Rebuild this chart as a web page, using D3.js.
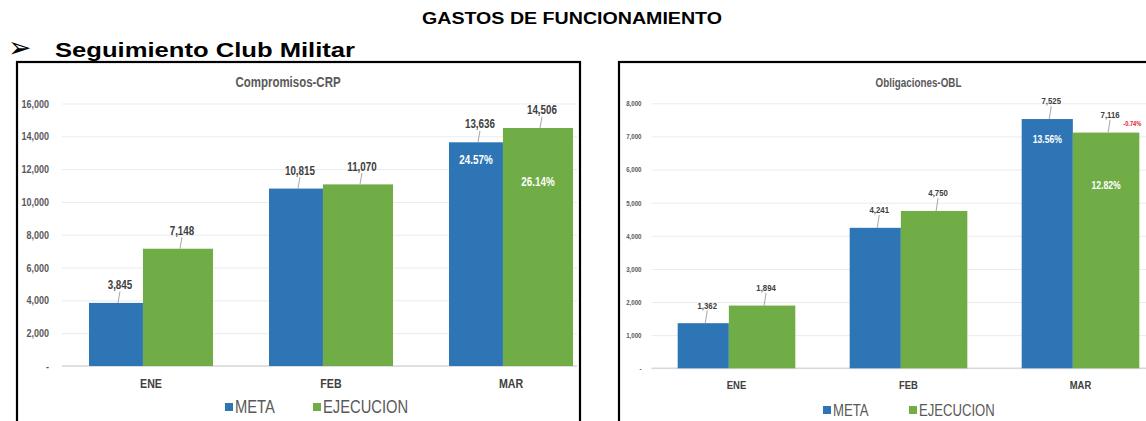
<!DOCTYPE html>
<html>
<head>
<meta charset="utf-8">
<script src="https://cdn.jsdelivr.net/npm/d3@7/dist/d3.min.js"></script>
<style>
  body { margin: 0; background: #fff; }
  svg { display: block; }
  text { font-family: "Liberation Sans", Arial, sans-serif; }
</style>
</head>
<body>
<div id="chart"></div>
<script>
// ---- data ----
var months = ["ENE", "FEB", "MAR"];
var seriesNames = ["META", "EJECUCION"];

// Compromisos-CRP
var crpMeta = [3845, 10815, 13636];
var crpEjec = [7148, 11070, 14506];
var crpMetaPct = ["", "", "24.57%"];
var crpEjecPct = ["", "", "26.14%"];
var crpDiff = ["", "", ""];
var crpTicks = [0, 2000, 4000, 6000, 8000, 10000, 12000, 14000, 16000];

// Obligaciones-OBL
var oblMeta = [1362, 4241, 7525];
var oblEjec = [1894, 4750, 7116];
var oblMetaPct = ["", "", "13.56%"];
var oblEjecPct = ["", "", "12.82%"];
var oblDiff = ["", "", "-0.74%"];
var oblTicks = [0, 1000, 2000, 3000, 4000, 5000, 6000, 7000, 8000];

var colors = {META: "#2E75B6", EJECUCION: "#70AD47"};

var W = 1146, H = 421;
var metaShare = 0.435; // META bar is a bit narrower than EJECUCION in the original
var squeeze = 0.82;    // no Arial Narrow here, so squash Liberation Sans horizontally

var svg = d3.select("#chart").append("svg")
    .attr("width", W)
    .attr("height", H);

// page headings
svg.append("text")
    .attr("x", 422).attr("y", 24)
    .attr("textLength", 300).attr("lengthAdjust", "spacingAndGlyphs")
    .style("font-weight", "bold").style("font-size", "16px")
    .attr("fill", "#000")
    .text("GASTOS DE FUNCIONAMIENTO");

svg.append("text")
    .attr("x", 8).attr("y", 57)
    .style("font-family", "'DejaVu Sans', sans-serif")
    .style("font-size", "28px")
    .attr("fill", "#000")
    .text("\u27A2");

svg.append("text")
    .attr("x", 55).attr("y", 57)
    .attr("textLength", 300).attr("lengthAdjust", "spacingAndGlyphs")
    .style("font-weight", "bold").style("font-size", "21px")
    .attr("fill", "#000")
    .text("Seguimiento Club Militar");

var fmt = d3.format(",");

// put a text at (x, y) squeezed horizontally
function place(sel, fx, fy) {
  sel.attr("transform", function(d) {
    var px = typeof fx === "function" ? fx(d) : fx;
    var py = typeof fy === "function" ? fy(d) : fy;
    return "translate(" + px + "," + py + ") scale(" + squeeze + ",1)";
  });
}

function drawPanel(p) {
  var g = svg.append("g");

  g.append("rect")
      .attr("x", p.box[0]).attr("y", p.box[1])
      .attr("width", p.box[2] - p.box[0]).attr("height", 500)
      .attr("fill", "#fff").attr("stroke", "#000").attr("stroke-width", 2.2);

  var x = d3.scaleBand()
      .domain(months)
      .range(p.xRange)
      .paddingInner(p.pad)
      .paddingOuter(p.pad / 2);

  var y = d3.scaleLinear()
      .domain([0, p.yMax])
      .range(p.yRange);

  var gridRight = Math.min(p.xRange[1], p.box[2] - 3);
  var gridLeft = p.xRange[0] + 1;

  // y axis with gridlines
  var yAxis = d3.axisLeft(y)
      .tickValues(p.ticks)
      .tickSize(-(gridRight - gridLeft))
      .tickPadding(p.tickPad)
      .tickFormat(function(d) { return d === 0 ? "-" : fmt(d); });

  var ya = g.append("g")
      .attr("transform", "translate(" + gridLeft + ",0)")
      .call(yAxis);
  ya.select(".domain").remove();
  ya.selectAll(".tick line").attr("stroke", "#EBEBEB").attr("stroke-width", 1);
  ya.selectAll(".tick text")
      .attr("x", 0)
      .attr("transform", "translate(" + (-p.tickPad) + ",0) scale(" + squeeze + ",1)")
      .attr("fill", "#595959")
      .style("font-family", "'Liberation Sans', Arial, sans-serif")
      .style("font-size", p.tickFont + "px")
      .style("font-weight", "bold");

  // baseline
  g.append("line")
      .attr("x1", gridLeft).attr("x2", gridRight)
      .attr("y1", y(0)).attr("y2", y(0))
      .attr("stroke", "#D9D9D9").attr("stroke-width", 1.5);

  // bars
  var rows = months.map(function(m, i) {
    return [
      {m: m, s: "META", v: p.meta[i], pct: p.metaPct[i], diff: "", off: 0, share: metaShare, pctAt: 0.92},
      {m: m, s: "EJECUCION", v: p.ejec[i], pct: p.ejecPct[i], diff: p.diff[i], off: metaShare, share: 1 - metaShare, pctAt: 0.775}
    ];
  });
  var bars = [].concat.apply([], rows);

  function bx(d) { return x(d.m) + x.bandwidth() * d.off; }
  function bw(d) { return x.bandwidth() * d.share; }
  function bc(d) { return bx(d) + bw(d) / 2; }

  g.selectAll("rect.bar")
    .data(bars)
    .enter().append("rect")
      .attr("class", "bar")
      .attr("x", bx)
      .attr("y", function(d) { return y(d.v); })
      .attr("width", bw)
      .attr("height", function(d) { return y(0) - y(d.v); })
      .attr("fill", function(d) { return colors[d.s]; });

  // leader lines + value labels
  g.selectAll("line.leader")
    .data(bars)
    .enter().append("line")
      .attr("class", "leader")
      .attr("x1", function(d) { return bc(d) + 4; })
      .attr("y1", function(d) { return y(d.v) - p.labelGap + p.valFont * 0.55; })
      .attr("x2", function(d) { return bc(d) + 2; })
      .attr("y2", function(d) { return y(d.v); })
      .attr("stroke", "#A6A6A6").attr("stroke-width", 1);

  g.selectAll("text.val")
    .data(bars)
    .enter().append("text")
      .attr("class", "val")
      .call(place, function(d) { return bc(d) + 4; }, function(d) { return y(d.v) - p.labelGap; })
      .attr("dy", "0.35em")
      .attr("text-anchor", "middle")
      .attr("fill", "#404040")
      .style("font-size", p.valFont + "px")
      .style("font-weight", "bold")
      .text(function(d) { return fmt(d.v); });

  // percentage labels inside bars
  g.selectAll("text.pct")
    .data(bars.filter(function(d) { return d.pct; }))
    .enter().append("text")
      .attr("class", "pct")
      .call(place, bc, function(d) { return y(d.v * d.pctAt); })
      .attr("dy", "0.35em")
      .attr("text-anchor", "middle")
      .attr("fill", "#fff")
      .style("font-size", p.pctFont + "px")
      .style("font-weight", "bold")
      .text(function(d) { return d.pct; });

  // difference label (red)
  g.selectAll("text.diff")
    .data(bars.filter(function(d) { return d.diff; }))
    .enter().append("text")
      .attr("class", "diff")
      .call(place, function(d) { return bx(d) + bw(d) - 7; }, function(d) { return y(d.v) - 9; })
      .attr("dy", "0.35em")
      .attr("text-anchor", "middle")
      .attr("fill", "#E0201F")
      .style("font-size", "7px")
      .style("font-weight", "bold")
      .text(function(d) { return d.diff; });

  // category axis labels
  g.selectAll("text.cat")
    .data(months)
    .enter().append("text")
      .attr("class", "cat")
      .call(place, function(d) { return x(d) + x.bandwidth() / 2; }, p.catY)
      .attr("dy", "0.35em")
      .attr("text-anchor", "middle")
      .attr("fill", "#404040")
      .style("font-size", p.catFont + "px")
      .style("font-weight", "bold")
      .text(function(d) { return d; });

  // title
  g.append("text")
      .datum(p.title)
      .call(place, p.titleX, p.titleY)
      .attr("dy", "0.35em")
      .attr("text-anchor", "middle")
      .attr("fill", "#595959")
      .style("font-size", p.titleFont + "px")
      .style("font-weight", "bold")
      .text(p.title);

  // legend
  var lg = g.selectAll("g.leg")
    .data(seriesNames)
    .enter().append("g")
      .attr("class", "leg")
      .attr("transform", function(d, i) { return "translate(" + p.legendX[i] + "," + p.legendY + ")"; });
  lg.append("rect")
      .attr("width", p.legSq).attr("height", p.legSq)
      .attr("fill", function(d) { return colors[d]; });
  lg.append("text")
      .call(place, p.legSq + 2, p.legSq / 2)
      .attr("dy", "0.36em")
      .attr("fill", "#595959")
      .style("font-size", p.legFont + "px")
      .text(function(d) { return d; });
}

drawPanel({
  title: "Compromisos-CRP",
  meta: crpMeta, ejec: crpEjec, metaPct: crpMetaPct, ejecPct: crpEjecPct, diff: crpDiff,
  ticks: crpTicks, yMax: 16000,
  box: [17, 62, 580],
  xRange: [61, 601], pad: 56 / 180,
  yRange: [366, 103.5],
  tickPad: 13, tickFont: 11,
  valFont: 12, labelGap: 18, pctFont: 12,
  catY: 383, catFont: 13,
  titleX: 288, titleY: 82, titleFont: 14,
  legendX: [225, 313], legendY: 403, legSq: 8, legFont: 18
});

drawPanel({
  title: "Obligaciones-OBL",
  meta: oblMeta, ejec: oblEjec, metaPct: oblMetaPct, ejecPct: oblEjecPct, diff: oblDiff,
  ticks: oblTicks, yMax: 8000,
  box: [619, 62, 1160],
  xRange: [650.5, 1166.5], pad: 0.316,
  yRange: [368.3, 103.3],
  tickPad: 10, tickFont: 7.5,
  valFont: 9.5, labelGap: 18, pctFont: 10.5,
  catY: 385, catFont: 11.5,
  titleX: 918.5, titleY: 83, titleFont: 12,
  legendX: [823, 909], legendY: 406, legSq: 8, legFont: 16
});
</script>
</body>
</html>
